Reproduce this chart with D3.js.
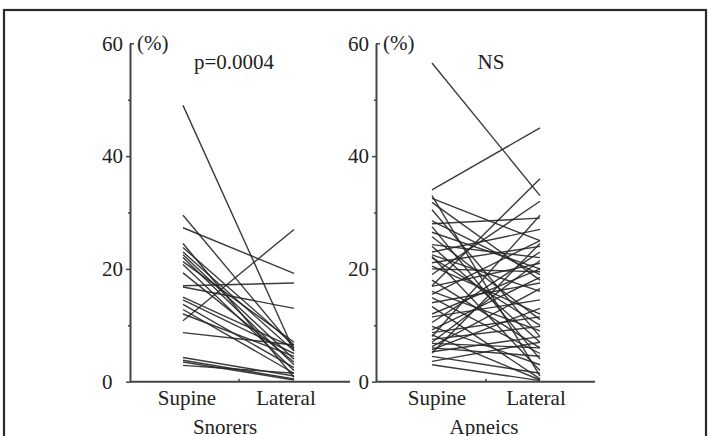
<!DOCTYPE html>
<html>
<head>
<meta charset="utf-8">
<script src="https://cdn.jsdelivr.net/npm/d3@7"></script>
<style>
  body { margin: 0; background: #fff; }
  svg { display: block; }
</style>
</head>
<body>
<div class="container"></div>
<script>
let serif = 'Liberation Serif';

// positions on the x axis
let positions = ['Supine', 'Lateral'];

// snorers: % in supine and lateral position, one pair per subject
let snorerSupine  = [49, 29.5, 27.3, 23.8, 23, 22.5, 22, 21.3, 20.8, 19.3, 17, 16.8, 15, 14.5, 13.7, 12.8, 12, 10.8, 8.7, 4.3, 3.8, 3.5, 2.9, 24.5];
let snorerLateral = [5.5, 6, 19.2, 6.5, 5.5, 4, 3, 7, 2, 3.5, 17.5, 13, 6, 5, 2.5, 1.5, 4.5, 27, 6.5, 1, 0.5, 0.3, 1.5, 0.8];

// apneics
let apneicSupine  = [56.5, 34, 33, 32.5, 31.8, 30.5, 28, 27.5, 26.5, 25.7, 24.3, 24, 23, 22.5, 22.2, 21.1, 20.5, 20, 18, 17, 16.9, 16, 15.5, 14.9, 14, 13.3, 12, 11.5, 10.5, 9.8, 9.2, 8.7, 8.3, 8, 7.5, 7, 6.8, 6.2, 6, 5.7, 5.3, 5.1, 4.5, 3.6, 3, 19, 22, 28.5];
let apneicLateral = [33, 45, 1, 25, 18, 8, 29, 4, 20, 11, 22, 7, 27, 16, 2, 24, 12, 19.5, 6, 36, 21, 9, 25, 5, 17.5, 0.5, 20, 14.5, 23, 3, 18.5, 11.5, 0.3, 29.5, 9.8, 21.5, 6, 16.5, 4.5, 13, 8, 24.5, 1.5, 7, 0.2, 32, 10, 19];

let yTicks = [0, 20, 40, 60],
    yMinor = [10, 30, 50];

let width = 709, height = 436;

let svg = d3.select('.container')
            .append('svg')
            .attr('width', width)
            .attr('height', height)
            .attr('font-family', serif);

// frame
svg.append('rect')
   .attr('x', 4).attr('y', 10)
   .attr('width', 702).attr('height', 440)
   .attr('fill', 'none')
   .attr('stroke', '#2a2a2a')
   .attr('stroke-width', 2.2);

let yScale = d3.scaleLinear()
               .domain([0, 60])
               .range([381.7, 43.3]);

let panels = [
  { supine: snorerSupine, lateral: snorerLateral, axisX: 130, xEnd: 350, pts: [183, 294], mid: 239,
    labelDx: [4, -8], title: 'Snorers', titleX: 225, stat: 'p=0.0004', statX: 234, left: true },
  { supine: apneicSupine, lateral: apneicLateral, axisX: 376, xEnd: 595, pts: [432, 540], mid: 486,
    labelDx: [5, -4], title: 'Apneics', titleX: 484, stat: 'NS', statX: 491, left: false }
];

panels.forEach(p => {
  let xScale = d3.scalePoint()
                 .domain(positions)
                 .range(p.pts);

  let g = svg.append('g');

  // subject lines
  let pairs = p.supine.map((s, i) => ({ s: s, l: p.lateral[i] }));
  g.selectAll('line.subject')
   .data(pairs)
   .enter()
   .append('line')
   .classed('subject', true)
   .attr('x1', xScale('Supine'))
   .attr('y1', d => yScale(d.s))
   .attr('x2', xScale('Lateral'))
   .attr('y2', d => yScale(d.l))
   .attr('stroke', '#262626')
   .attr('stroke-width', 1.4)
   .attr('stroke-opacity', 0.9);

  // y axis
  let yAxis = d3.axisLeft(yScale)
                .tickValues(yTicks)
                .tickSize(4)
                .tickPadding(3)
                .tickSizeOuter(0);

  let ya = g.append('g')
            .attr('transform', `translate(${p.axisX},0)`)
            .call(yAxis)
            .attr('font-family', serif)
            .attr('font-size', 21);
  ya.select('.domain').attr('stroke', '#444').attr('stroke-width', 2);
  ya.selectAll('.tick line').attr('stroke', '#444').attr('stroke-width', 1.5)
    .attr('x2', d => d === 60 ? 4 : -4);
  ya.selectAll('.tick text').attr('fill', '#222');
  if (p.left) {
    ya.selectAll('.tick text').attr('text-anchor', 'start').attr('x', -28);
  }

  let yMin = d3.axisLeft(yScale)
               .tickValues(yMinor)
               .tickSize(2)
               .tickFormat('');
  let ym = g.append('g')
            .attr('transform', `translate(${p.axisX},0)`)
            .call(yMin);
  ym.select('.domain').remove();
  ym.selectAll('.tick line').attr('stroke', '#444').attr('stroke-width', 1.5);

  // (%) unit
  g.append('text')
   .attr('x', p.axisX + 7)
   .attr('y', 50)
   .attr('font-family', serif)
   .attr('font-size', 21)
   .attr('fill', '#222')
   .text('(%)');

  // x axis
  g.append('line')
   .attr('x1', p.axisX).attr('x2', p.xEnd)
   .attr('y1', yScale(0)).attr('y2', yScale(0))
   .attr('stroke', '#444')
   .attr('stroke-width', 2);
  g.append('line')
   .attr('x1', p.mid).attr('x2', p.mid)
   .attr('y1', yScale(0)).attr('y2', yScale(0) - 3)
   .attr('stroke', '#444')
   .attr('stroke-width', 1.5);

  g.selectAll('text.pos')
   .data(positions)
   .enter()
   .append('text')
   .classed('pos', true)
   .attr('x', (d, i) => xScale(d) + p.labelDx[i])
   .attr('y', 405)
   .attr('text-anchor', 'middle')
   .attr('font-family', serif)
   .attr('font-size', 21)
   .attr('fill', '#222')
   .text(d => d);

  g.append('text')
   .attr('x', p.titleX)
   .attr('y', 434)
   .attr('text-anchor', 'middle')
   .attr('font-family', serif)
   .attr('font-size', 21)
   .attr('fill', '#222')
   .text(p.title);

  g.append('text')
   .attr('x', p.statX)
   .attr('y', 69)
   .attr('text-anchor', 'middle')
   .attr('font-family', serif)
   .attr('font-size', 21)
   .attr('fill', '#222')
   .text(p.stat);
});
</script>
</body>
</html>
